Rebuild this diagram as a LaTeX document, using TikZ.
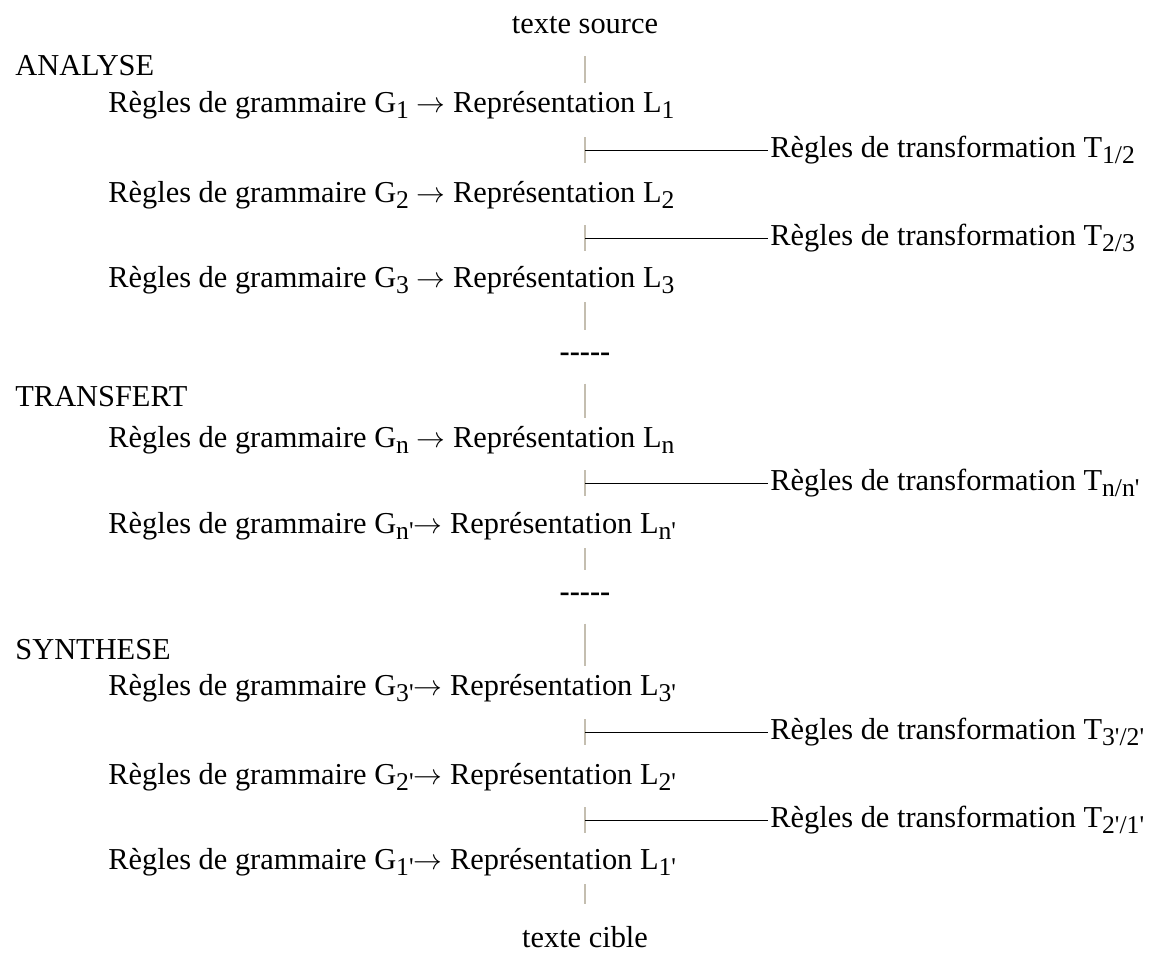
\documentclass[tikz,border=0pt]{standalone}
\usepackage{fontspec}
\setmainfont{Liberation Serif}
\usetikzlibrary{positioning, calc}
\definecolor{barcol}{RGB}{196,190,176}
\newcommand{\tirets}{\textbf{-\kern0pt-\kern0pt-\kern0pt-\kern0pt-}}
\newcommand{\ind}[1]{\raisebox{-0.45ex}{\fontsize{12.8}{13}\selectfont #1}}
\newcommand{\pr}{\textquotesingle}

\begin{document}
\begin{tikzpicture}[x=0.5pt, y=-0.5pt,
    txt/.style={inner sep=0pt, font=\fontsize{15.2}{18}\selectfont},
    lbl/.style={txt, anchor=west},
    bar/.style={draw=barcol, line width=0.8pt, shorten <=11pt, shorten >=11pt},
    tickbar/.style={draw=barcol, line width=0.8pt}]
  \useasboundingbox (0,0) rectangle (1158,958);

  % Source / cible
  \node[txt] (src) at (585,25) {texte source};
  \node[txt] (tgt) at (585,937) {texte cible};

  % ANALYSE
  \node[lbl] (ana) at (15,66) {ANALYSE};
  \node[lbl] (g1) at (108,105) {Règles de grammaire G\ind{1} $\rightarrow$ Représentation L\ind{1}};
  \node[lbl] (g2) at (108,195) {Règles de grammaire G\ind{2} $\rightarrow$ Représentation L\ind{2}};
  \node[lbl] (g3) at (108,280) {Règles de grammaire G\ind{3} $\rightarrow$ Représentation L\ind{3}};
  \node[lbl] (t12) at (770,150) {Règles de transformation T\ind{1/2}};
  \node[lbl] (t23) at (770,238) {Règles de transformation T\ind{2/3}};
  \node[txt] (d1) at (585,357) {\tirets};

  % TRANSFERT
  \node[lbl] (tra) at (15,397) {TRANSFERT};
  \node[lbl] (gn) at (108,440) {Règles de grammaire G\ind{n} $\rightarrow$ Représentation L\ind{n}};
  \node[lbl] (gnp) at (108,526) {Règles de grammaire G\ind{n\pr}$\rightarrow$ Représentation L\ind{n\pr}};
  \node[lbl] (tnn) at (770,483) {Règles de transformation T\ind{n/n\pr}};
  \node[txt] (d2) at (585,597) {\tirets};

  % SYNTHESE
  \node[lbl] (syn) at (15,650) {SYNTHESE};
  \node[lbl] (g3p) at (108,688) {Règles de grammaire G\ind{3\pr}$\rightarrow$ Représentation L\ind{3\pr}};
  \node[lbl] (g2p) at (108,777) {Règles de grammaire G\ind{2\pr}$\rightarrow$ Représentation L\ind{2\pr}};
  \node[lbl] (g1p) at (108,862) {Règles de grammaire G\ind{1\pr}$\rightarrow$ Représentation L\ind{1\pr}};
  \node[lbl] (t32) at (770,732) {Règles de transformation T\ind{3\pr/2\pr}};
  \node[lbl] (t21) at (770,820) {Règles de transformation T\ind{2\pr/1\pr}};

  % Vertical bars
  \draw[bar] (src) -- (src |- g1);
  \draw[bar] (src |- g3) -- (d1);
  \draw[bar] (d1) -- (src |- gn);
  \draw[bar] (src |- gnp) -- (d2);
  \draw[bar] (d2) -- (src |- g3p);
  \draw[bar] (src |- g1p) -- (tgt);

  % Transformations
  \foreach \tn in {t12, t23, tnn, t32, t21} {
    \coordinate (k) at (src |- \tn);
    \draw[tickbar] ($(k)+(0,-13)$) -- ($(k)+(0,13)$);
    \draw[thin, shorten >=1pt] (k) -- (\tn.west);
  }
\end{tikzpicture}
\end{document}
